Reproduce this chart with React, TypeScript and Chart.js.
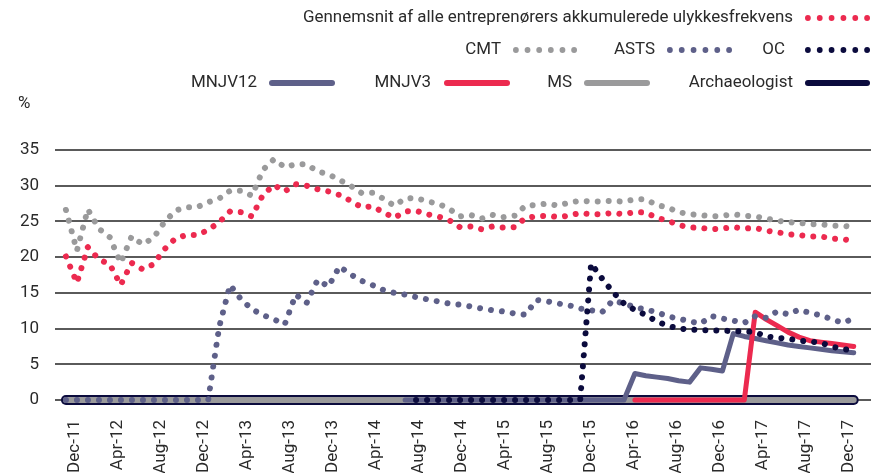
import { useEffect, useRef } from 'react';
import { Chart, registerables } from 'chart.js';

Chart.register(...registerables);

const months = [
  'Dec-11',
  'Jan-12', 'Feb-12', 'Mar-12', 'Apr-12', 'May-12', 'Jun-12', 'Jul-12', 'Aug-12', 'Sep-12', 'Oct-12', 'Nov-12', 'Dec-12',
  'Jan-13', 'Feb-13', 'Mar-13', 'Apr-13', 'May-13', 'Jun-13', 'Jul-13', 'Aug-13', 'Sep-13', 'Oct-13', 'Nov-13', 'Dec-13',
  'Jan-14', 'Feb-14', 'Mar-14', 'Apr-14', 'May-14', 'Jun-14', 'Jul-14', 'Aug-14', 'Sep-14', 'Oct-14', 'Nov-14', 'Dec-14',
  'Jan-15', 'Feb-15', 'Mar-15', 'Apr-15', 'May-15', 'Jun-15', 'Jul-15', 'Aug-15', 'Sep-15', 'Oct-15', 'Nov-15', 'Dec-15',
  'Jan-16', 'Feb-16', 'Mar-16', 'Apr-16', 'May-16', 'Jun-16', 'Jul-16', 'Aug-16', 'Sep-16', 'Oct-16', 'Nov-16', 'Dec-16',
  'Jan-17', 'Feb-17', 'Mar-17', 'Apr-17', 'May-17', 'Jun-17', 'Jul-17', 'Aug-17', 'Sep-17', 'Oct-17', 'Nov-17', 'Dec-17',
];

const tickLabels = [
  'Dec-11', 'Apr-12', 'Aug-12', 'Dec-12', 'Apr-13', 'Aug-13', 'Dec-13', 'Apr-14', 'Aug-14', 'Dec-14',
  'Apr-15', 'Aug-15', 'Dec-15', 'Apr-16', 'Aug-16', 'Dec-16', 'Apr-17', 'Aug-17', 'Dec-17',
];

const yTicks = [0, 5, 10, 15, 20, 25, 30, 35];

// Gennemsnit af alle entreprenørers akkumulerede ulykkesfrekvens
const avgSeries = [
  20.1,
  16.4, 21.4, 19.7, 19.0, 16.1, 19.2, 18.3, 19.0, 21.1, 22.6, 23.1, 23.1,
  23.8, 24.9, 26.4, 26.3, 25.7, 28.7, 30.1, 29.2, 30.2, 30.0, 29.5, 29.2,
  28.7, 27.9, 27.0, 27.1, 26.3, 25.5, 26.4, 26.5, 26.0, 25.7, 25.2, 24.2,
  24.3, 23.9, 24.3, 24.15, 24.2, 25.5, 25.7, 25.8, 25.6, 25.8, 26.2, 26.0,
  26.0, 26.2, 26.0, 26.3, 26.25, 25.5, 25.1, 24.5, 24.15, 24.1, 23.9, 24.0,
  24.2, 24.0, 24.1, 23.7, 23.5, 23.2, 23.1, 22.9, 22.9, 22.6, 22.5, 22.3,
];

const cmtSeries = [
  26.6,
  20.9, 26.7, 24.0, 22.8, 19.2, 22.9, 21.8, 22.7, 24.9, 26.5, 27.0, 27.0,
  27.7, 28.2, 29.3, 29.3, 28.6, 32.2, 33.7, 32.6, 33.0, 33.0, 32.0, 31.6,
  30.8, 30.0, 29.0, 29.0, 28.2, 27.2, 28.2, 28.3, 27.8, 27.5, 26.8, 25.7,
  25.9, 25.4, 25.9, 25.6, 25.8, 27.2, 27.3, 27.5, 27.2, 27.65, 27.9, 27.8,
  27.8, 27.9, 27.75, 28.1, 28.1, 27.3, 26.95, 26.3, 26.0, 25.9, 25.7, 25.8,
  26.0, 25.8, 25.7, 25.4, 25.1, 24.9, 24.8, 24.6, 24.6, 24.4, 24.4, 24.2,
];

const astsSeries = [
  0,
  0, 0, 0, 0, 0, 0, 0, 0, 0, 0, 0, 0,
  0, 10.2, 16.1, 14.1, 12.7, 11.9, 11.3, 10.6, 14.75, 13.6, 16.8, 15.9,
  18.7, 17.6, 16.7, 16.1, 15.4, 15.0, 14.75, 14.4, 14.1, 13.8, 13.5, 13.35,
  13.1, 12.8, 12.55, 12.4, 12.1, 11.95, 14.0, 13.8, 13.5, 13.25, 12.8, 12.55,
  12.3, 13.95, 13.5, 13.0, 12.65, 12.3, 11.7, 11.4, 11.0, 10.7, 11.75, 11.4,
  11.1, 10.8, 11.75, 11.5, 12.4, 12.0, 12.65, 12.2, 11.85, 11.3, 10.8, 11.4,
];

const ocSeries = [
  null,
  null, null, null, null, null, null, null, null, null, null, null, null,
  null, null, null, null, null, null, null, null, null, null, null, null,
  null, null, null, null, null, null, null, 0, 0, 0, 0, 0,
  0, 0, 0, 0, 0, 0, 0, 0, 0, 0, 0, 19.1,
  17.0, 15.1, 13.5, 12.6, 11.9, 11.0, 10.4, 10.0, 9.9, 9.75, 9.75, 9.7,
  9.65, 9.6, 9.5, 8.9, 8.7, 8.6, 8.3, 8.2, 8.0, 7.5, 7.1, 7.0,
];

const mnjv12Series = [
  null,
  null, null, null, null, null, null, null, null, null, null, null, null,
  null, null, null, null, null, null, null, null, null, null, null, null,
  null, null, null, null, null, null, 0, 0, 0, 0, 0, 0,
  0, 0, 0, 0, 0, 0, 0, 0, 0, 0, 0, 0,
  0, 0, 0, 3.7, 3.4, 3.2, 3.0, 2.7, 2.5, 4.5, 4.3, 4.05,
  9.3, 8.9, 8.6, 8.3, 8.0, 7.7, 7.5, 7.3, 7.1, 6.9, 6.75, 6.6,
];

const mnjv3Series = [
  null,
  null, null, null, null, null, null, null, null, null, null, null, null,
  null, null, null, null, null, null, null, null, null, null, null, null,
  null, null, null, null, null, null, null, null, null, null, null, null,
  null, null, null, null, null, null, null, null, null, null, null, null,
  null, null, null, 0, 0, 0, 0, 0, 0, 0, 0, 0,
  0, 0, 12.3, 11.3, 10.4, 9.5, 8.8, 8.3, 8.1, 7.9, 7.7, 7.5,
];

const msSeries = [
  0,
  0, 0, 0, 0, 0, 0, 0, 0, 0, 0, 0, 0,
  0, 0, 0, 0, 0, 0, 0, 0, 0, 0, 0, 0,
  0, 0, 0, 0, 0, 0, 0, 0, 0, 0, 0, 0,
  0, 0, 0, 0, 0, 0, 0, 0, 0, 0, 0, 0,
  0, 0, 0, 0, 0, 0, 0, 0, 0, 0, 0, 0,
  0, 0, 0, 0, 0, 0, 0, 0, 0, 0, 0, 0,
];

const archaeologistSeries = [
  0,
  0, 0, 0, 0, 0, 0, 0, 0, 0, 0, 0, 0,
  0, 0, 0, 0, 0, 0, 0, 0, 0, 0, 0, 0,
  0, 0, 0, 0, 0, 0, 0, 0, 0, 0, 0, 0,
  0, 0, 0, 0, 0, 0, 0, 0, 0, 0, 0, 0,
  0, 0, 0, 0, 0, 0, 0, 0, 0, 0, 0, 0,
  0, 0, 0, 0, 0, 0, 0, 0, 0, 0, 0, 0,
];

const RED = '#ec2a4f';
const GREY = '#9a9a9b';
const SLATE = '#5e6089';
const NAVY = '#0b0b3d';
const TEXT = '#2a2a2a';
const FONT = 'Roboto, "Noto Sans", sans-serif';

const AVG_LABEL = 'Gennemsnit af alle entreprenørers akkumulerede ulykkesfrekvens';

type LegendItem = { label: string; color: string; kind: 'dot' | 'line'; right: number; x0: number; x1: number; y: number };

const legendItems: LegendItem[] = [
  { label: AVG_LABEL, color: RED, kind: 'dot', right: 793, x0: 805, x1: 870, y: 18 },
  { label: 'CMT', color: GREY, kind: 'dot', right: 501, x0: 513, x1: 577, y: 50 },
  { label: 'ASTS', color: SLATE, kind: 'dot', right: 655, x0: 667, x1: 732, y: 50 },
  { label: 'OC', color: NAVY, kind: 'dot', right: 785, x0: 805, x1: 870, y: 50 },
  { label: 'MNJV12', color: SLATE, kind: 'line', right: 257, x0: 269, x1: 335, y: 83 },
  { label: 'MNJV3', color: RED, kind: 'line', right: 431, x0: 444, x1: 510, y: 83 },
  { label: 'MS', color: GREY, kind: 'line', right: 572, x0: 584, x1: 650, y: 83 },
  { label: 'Archaeologist', color: NAVY, kind: 'line', right: 793, x0: 805, x1: 870, y: 83 },
];

const legendPlugin = {
  id: 'customLegend',
  afterDraw(chart: any) {
    const ctx: CanvasRenderingContext2D = chart.ctx;
    ctx.save();
    ctx.font = `16px ${FONT}`;
    ctx.fillStyle = TEXT;
    ctx.textBaseline = 'middle';
    const sx = (793 - 303) / ctx.measureText(AVG_LABEL).width;
    for (const it of legendItems) {
      ctx.save();
      ctx.translate(it.right, it.y);
      ctx.scale(sx, 1);
      ctx.textAlign = 'right';
      ctx.fillStyle = TEXT;
      ctx.fillText(it.label, 0, 0);
      ctx.restore();
      if (it.kind === 'dot') {
        ctx.fillStyle = it.color;
        const n = 6;
        const r = 2.9;
        for (let k = 0; k < n; k++) {
          const cx = it.x0 + r + ((it.x1 - it.x0 - 2 * r) * k) / (n - 1);
          ctx.beginPath();
          ctx.arc(cx, it.y, r, 0, Math.PI * 2);
          ctx.fill();
        }
      } else {
        ctx.strokeStyle = it.color;
        ctx.lineWidth = 6;
        ctx.lineCap = 'round';
        ctx.beginPath();
        ctx.moveTo(it.x0 + 3, it.y);
        ctx.lineTo(it.x1 - 3, it.y);
        ctx.stroke();
      }
    }
    ctx.save();
    ctx.translate(18, 104);
    ctx.scale(sx, 1);
    ctx.textAlign = 'left';
    ctx.fillStyle = TEXT;
    ctx.fillText('%', 0, 0);
    ctx.restore();
    ctx.restore();
  },
};

const toPoints = (arr: (number | null)[]) => arr.map((y, i) => ({ x: i, y }));

const dotted = (label: string, arr: (number | null)[], color: string) => ({
  label,
  data: toPoints(arr),
  xAxisID: 'x',
  clip: false,
  borderColor: color,
  backgroundColor: color,
  borderWidth: 6,
  borderDash: [0.001, 11],
  borderCapStyle: 'round' as const,
  borderJoinStyle: 'round' as const,
  pointRadius: 0,
  tension: 0,
  fill: false,
  spanGaps: false,
});

const solid = (label: string, arr: (number | null)[], color: string, width: number) => ({
  label,
  data: toPoints(arr),
  xAxisID: 'x',
  clip: false,
  borderColor: color,
  backgroundColor: color,
  borderWidth: width,
  borderCapStyle: 'round' as const,
  borderJoinStyle: 'round' as const,
  pointRadius: 0,
  tension: 0,
  fill: false,
  spanGaps: false,
});

export default function App() {
  const ref = useRef<HTMLCanvasElement>(null);
  useEffect(() => {
    if (!ref.current) return;
    Chart.defaults.font.family = FONT;
    const chart = new Chart(ref.current, {
      type: 'line',
      data: {
        datasets: [
          dotted(AVG_LABEL, avgSeries, RED),
          dotted('CMT', cmtSeries, GREY),
          dotted('OC', ocSeries, NAVY),
          dotted('ASTS', astsSeries, SLATE),
          solid('MNJV3', mnjv3Series, RED, 5),
          solid('MNJV12', mnjv12Series, SLATE, 5),
          solid('MS', msSeries, GREY, 6),
          solid('Archaeologist', archaeologistSeries, NAVY, 10),
        ] as any,
      },
      options: {
        animation: false,
        responsive: true,
        maintainAspectRatio: false,
        layout: { padding: { top: 150, right: 5, bottom: 0, left: 0 } },
        plugins: { legend: { display: false }, tooltip: { enabled: false } },
        scales: {
          x: {
            type: 'linear',
            display: false,
            min: -0.27,
            max: 73.58,
          },
          xl: {
            type: 'linear',
            position: 'bottom',
            min: -1.12,
            max: 74.05,
            grid: { display: false, drawTicks: false },
            border: { display: false },
            afterBuildTicks: (s: any) => {
              s.ticks = tickLabels.map((l) => ({ value: months.indexOf(l) }));
            },
            afterFit: (s: any) => {
              s.height = 73;
              s.paddingLeft = 0;
              s.paddingRight = 0;
            },
            ticks: {
              autoSkip: false,
              minRotation: 90,
              maxRotation: 90,
              padding: 20,
              color: TEXT,
              font: { size: 17, family: FONT },
              callback: (v: any) => months[Number(v)] ?? '',
            },
          },
          y: {
            min: 0,
            max: 35,
            afterBuildTicks: (s: any) => {
              s.ticks = yTicks.map((v) => ({ value: v }));
            },
            afterFit: (s: any) => {
              s.width = 63;
              s.paddingTop = 0;
              s.paddingBottom = 0;
            },
            ticks: { padding: 16, color: TEXT, font: { size: 17, family: FONT } },
            grid: { color: '#5a5a5a', lineWidth: 2, tickLength: 8, drawTicks: true },
            border: { display: false },
          },
        },
      } as any,
      plugins: [legendPlugin],
    });
    return () => chart.destroy();
  }, []);
  return (
    <div style={{ position: 'fixed', left: 0, top: 0, width: 876, height: 473, background: '#fff' }}>
      <canvas ref={ref} />
    </div>
  );
}
